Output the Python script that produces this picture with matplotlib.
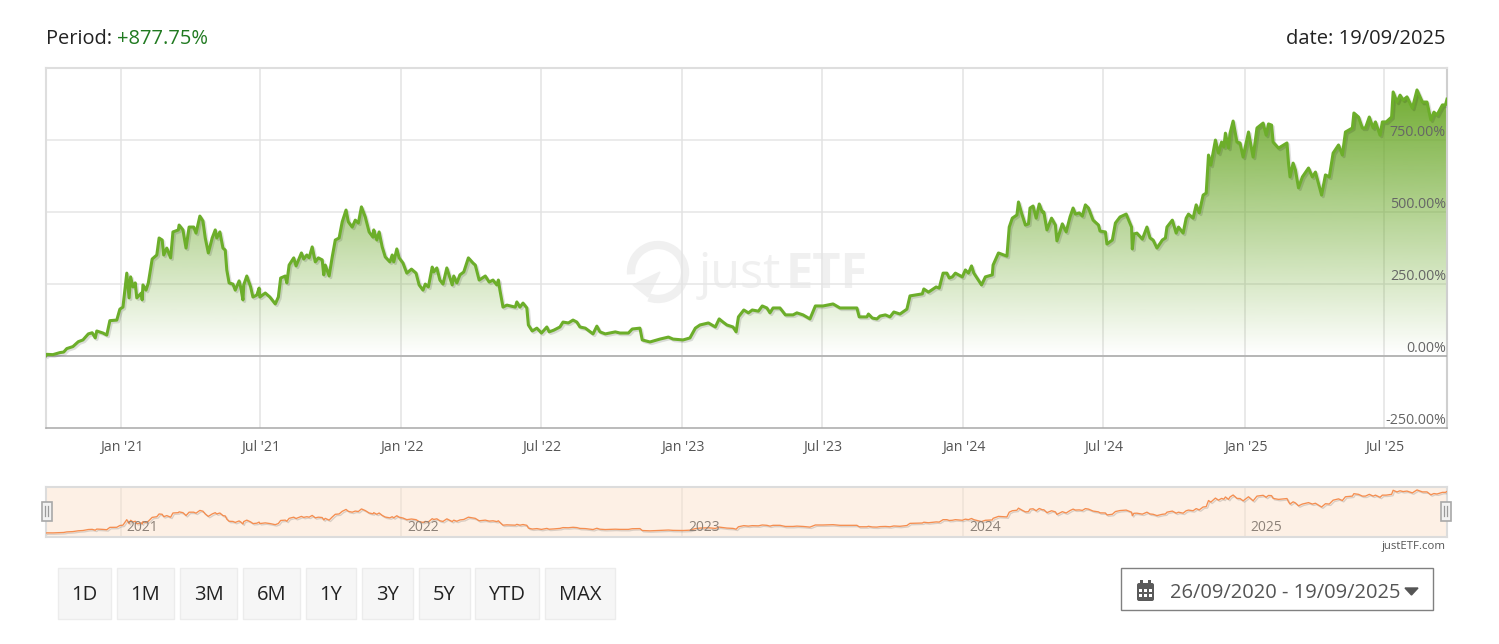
import matplotlib
matplotlib.use("Agg")
import matplotlib.pyplot as plt
import matplotlib.patheffects as pe
from matplotlib.patches import Rectangle, Polygon, Arc, FancyBboxPatch
from matplotlib.colors import LinearSegmentedColormap
import numpy as np
import pandas as pd

plt.rcParams['font.family'] = ['Open Sans', 'DejaVu Sans']

# days since the first date / performance in %
start_date = pd.Timestamp("2020-09-26")
days = [0, 1, 9, 18, 23, 27, 35, 42, 48, 55, 60, 64, 66, 74, 79, 83, 92, 96, 100, 105,
        108, 110, 113, 116, 118, 124, 125, 126, 130, 133, 138, 144, 147, 151, 153, 157, 162, 165, 172, 173,
        178, 182, 186, 192, 195, 200, 204, 207, 211, 216, 220, 222, 226, 230, 233, 235, 238, 243, 246, 251,
        253, 256, 257, 261, 266, 269, 274, 277, 278, 285, 291, 298, 302, 305, 311, 313, 316, 322, 325, 332,
        335, 339, 342, 346, 350, 354, 359, 361, 363, 368, 372, 376, 381, 385, 390, 393, 398, 402, 406, 410,
        415, 420, 425, 426, 430, 433, 437, 441, 447, 450, 452, 456, 459, 464, 469, 475, 481, 485, 490, 493,
        497, 502, 504, 508, 512, 516, 521, 528, 530, 534, 538, 543, 549, 555, 558, 563, 571, 576, 581, 586,
        588, 590, 594, 599, 610, 612, 616, 620, 625, 627, 632, 638, 644, 651, 654, 660, 668, 672, 679, 685,
        690, 694, 701, 711, 716, 720, 727, 740, 746, 757, 762, 772, 775, 785, 798, 809, 815, 828, 837, 844,
        850, 861, 870, 875, 880, 885, 893, 897, 900, 907, 913, 918, 926, 931, 937, 941, 945, 954, 961, 971,
        976, 984, 993, 1000, 1010, 1023, 1032, 1045, 1054, 1057, 1067, 1069, 1074, 1080, 1084, 1091, 1097, 1102, 1110, 1119,
        1123, 1139, 1141, 1147, 1153, 1157, 1161, 1166, 1171, 1174, 1178, 1182, 1191, 1195, 1199, 1203, 1206, 1216, 1221, 1230,
        1231, 1238, 1249, 1252, 1256, 1262, 1264, 1268, 1273, 1277, 1279, 1283, 1287, 1291, 1295, 1297, 1301, 1307, 1312, 1314,
        1321, 1326, 1331, 1335, 1338, 1343, 1347, 1351, 1355, 1361, 1368, 1370, 1377, 1379, 1386, 1390, 1396, 1404, 1411, 1412,
        1414, 1418, 1425, 1431, 1435, 1439, 1444, 1451, 1455, 1457, 1464, 1469, 1472, 1478, 1482, 1485, 1491, 1495, 1499, 1504,
        1508, 1511, 1514, 1520, 1524, 1528, 1531, 1533, 1537, 1539, 1543, 1548, 1552, 1556, 1563, 1569, 1574, 1582, 1586, 1589,
        1593, 1595, 1602, 1613, 1615, 1617, 1621, 1624, 1628, 1633, 1641, 1646, 1650, 1658, 1663, 1668, 1673, 1680, 1685, 1689,
        1698, 1700, 1706, 1711, 1715, 1720, 1725, 1728, 1734, 1737, 1742, 1749, 1751, 1756, 1760, 1764, 1769, 1776, 1782, 1789,
        1795, 1800, 1804, 1808, 1815, 1819, 1821]
pct = [0, 4, 3, 10, 12, 24, 31, 48, 54, 75, 79, 61, 85, 78, 71, 121, 123, 161, 168, 286,
       200, 273, 238, 252, 200, 217, 193, 245, 227, 252, 335, 349, 408, 401, 349, 373, 339, 429, 436, 453,
       436, 373, 446, 446, 425, 484, 467, 408, 356, 408, 436, 408, 429, 373, 366, 297, 252, 248, 227, 259,
       238, 193, 245, 276, 238, 203, 210, 234, 203, 217, 203, 179, 203, 269, 276, 252, 314, 339, 311, 356,
       335, 349, 339, 377, 325, 339, 332, 280, 314, 276, 342, 401, 408, 464, 505, 464, 446, 470, 460, 516,
       481, 429, 411, 436, 401, 429, 377, 342, 325, 349, 325, 370, 339, 321, 286, 300, 286, 245, 227, 248,
       238, 307, 290, 304, 262, 248, 304, 245, 276, 252, 280, 290, 339, 321, 314, 262, 276, 255, 262, 245,
       262, 227, 168, 175, 168, 186, 168, 182, 165, 106, 85, 95, 78, 99, 82, 88, 99, 116, 113, 123,
       116, 99, 95, 75, 102, 82, 75, 82, 78, 78, 92, 95, 54, 47, 57, 64, 57, 54, 61, 95,
       106, 113, 99, 127, 116, 106, 99, 82, 134, 158, 148, 158, 154, 172, 165, 148, 165, 165, 141, 141,
       148, 141, 127, 172, 172, 179, 165, 165, 165, 134, 134, 144, 130, 127, 137, 141, 134, 151, 144, 161,
       207, 214, 231, 220, 231, 238, 234, 286, 286, 269, 273, 286, 273, 297, 286, 311, 286, 245, 273, 280,
       314, 356, 345, 446, 477, 488, 533, 495, 453, 457, 512, 519, 477, 526, 498, 498, 436, 477, 453, 398,
       457, 429, 481, 512, 491, 495, 484, 523, 512, 470, 453, 432, 429, 387, 401, 460, 481, 491, 446, 370,
       422, 425, 404, 446, 408, 401, 373, 401, 408, 446, 470, 425, 446, 425, 477, 491, 477, 523, 495, 557,
       564, 696, 661, 748, 703, 741, 724, 772, 720, 772, 814, 741, 738, 689, 776, 689, 790, 807, 765, 804,
       800, 741, 720, 738, 668, 620, 668, 644, 582, 620, 651, 620, 637, 557, 627, 620, 703, 731, 696, 776,
       790, 842, 828, 790, 790, 828, 790, 811, 765, 811, 811, 828, 915, 880, 904, 887, 898, 859, 922, 880,
       880, 818, 845, 835, 870, 870, 890]

y_ticks = [-250, 0, 250, 500, 750]
x_tick_dates = ["2021-01-01", "2021-07-01", "2022-01-01", "2022-07-01", "2023-01-01",
                "2023-07-01", "2024-01-01", "2024-07-01", "2025-01-01", "2025-07-01"]
x_tick_labels = ["Jan '21", "Jul '21", "Jan '22", "Jul '22", "Jan '23",
                 "Jul '23", "Jan '24", "Jul '24", "Jan '25", "Jul '25"]
nav_years = [2021, 2022, 2023, 2024, 2025]
buttons = ["1D", "1M", "3M", "6M", "1Y", "3Y", "5Y", "YTD", "MAX"]
button_left = [58, 117, 180, 243, 306, 362, 419, 475, 545]
button_right = [111, 174, 237, 300, 356, 413, 470, 539, 615]

last_day = days[-1]
W, H = 1499, 644


def day_of(d):
    return (pd.Timestamp(d) - start_date).days


def rect_of(x0, y0, x1, y1):
    return [x0 / W, (H - y1) / H, (x1 - x0) / W, (y1 - y0) / H]


fig = plt.figure(figsize=(W / 100, H / 100), dpi=100, facecolor='white')

# page layer in pixels: header, watermark
bg = fig.add_axes([0, 0, 1, 1], zorder=0)
bg.set_xlim(0, W)
bg.set_ylim(H, 0)
bg.axis('off')

bg.text(46.5, 44, "Period:", fontsize=14.4, color='#222222', va='baseline')
bg.text(117.5, 44, "+877.75%", fontsize=14.5, color='#217a21', va='baseline')
bg.text(1446, 44, "date: 19/09/2025", fontsize=14.5, color='#222222', va='baseline', ha='right')

# watermark
wm = '#f0f0f0'
bg.add_patch(Arc((658, 272), 54, 54, theta1=175, theta2=470, color=wm, lw=6, zorder=1))
bg.add_patch(Polygon([(633, 285), (660, 272), (648, 297)], closed=True, color=wm, zorder=1))
bg.text(699, 288, "just", fontsize=35, color=wm, va='baseline', zorder=1)
bg.text(786, 288, "ETF", fontsize=35, color=wm, va='baseline', fontweight='bold', zorder=1)

# main chart
ax = fig.add_axes(rect_of(46, 67.5, 1447, 427.5), zorder=1)
ax.patch.set_alpha(0)
for v in y_ticks[1:]:
    ax.axhline(v, color='#e6e6e6', lw=1.1, zorder=1)
for d in x_tick_dates:
    ax.axvline(day_of(d), color='#e3e3e3', lw=1.1, zorder=1)

green_cmap = LinearSegmentedColormap.from_list(
    'fade', [(106 / 255, 168 / 255, 40 / 255, 0.0), (106 / 255, 168 / 255, 40 / 255, 0.95)])
grad = np.linspace(1, 0, 256).reshape(-1, 1)
im = ax.imshow(grad, cmap=green_cmap, extent=(0, last_day, 0, max(pct)), aspect='auto', zorder=2)
area = Polygon(list(zip(days, pct)) + [(last_day, 0), (0, 0)], closed=True, transform=ax.transData,
               fc='none', ec='none')
ax.add_patch(area)
im.set_clip_path(area)

ax.axhline(0, color='#a8a8a8', lw=1.1, zorder=3)
ax.plot(days, pct, color='#6cae2a', lw=2.2, zorder=4, solid_joinstyle='round',
        path_effects=[pe.SimpleLineShadow(offset=(1.2, -1.2), shadow_color='k', alpha=0.12), pe.Normal()])

ax.set_xlim(0, last_day)
ax.set_ylim(-250, 1000)
ax.set_xticks([day_of(d) + 1 for d in x_tick_dates], x_tick_labels)
ax.set_yticks([])
ax.tick_params(axis='x', length=0, pad=9.2, labelsize=10.2, labelcolor='#555555')
for side in ['top', 'left', 'right']:
    ax.spines[side].set_color('#dedede')
    ax.spines[side].set_linewidth(1.5)
ax.spines['right'].set_color('#cfcfcf')
ax.spines['bottom'].set_color('#a8a8a8')
ax.spines['bottom'].set_linewidth(1.1)

for v in y_ticks:
    ax.annotate(f"{v:.2f}%", xy=(1, v), xycoords=ax.get_yaxis_transform(), xytext=(-0.8, -0.6),
                textcoords='offset points', ha='right', va='bottom', fontsize=10.3, color='#666666',
                zorder=6)

# navigator
nav = fig.add_axes(rect_of(46, 487, 1447, 537), zorder=1)
nav.set_facecolor('#fdf0e5')
nav.set_xlim(0, last_day)
nav.set_ylim(-85, 985)
nav.set_xticks([])
nav.set_yticks([])
for s in nav.spines.values():
    s.set_color('#dcdcdc')
    s.set_linewidth(1.5)
for yr in nav_years:
    d = day_of(f"{yr}-01-01")
    nav.axvline(d, color='#eee2d7', lw=1.1, zorder=1)
    nav.annotate(str(yr), xy=(d, 0), xycoords=nav.get_xaxis_transform(), xytext=(4.2, 4),
                 textcoords='offset points', fontsize=10, color='#8c8178', zorder=4)
nav.plot(days, pct, color='#f58e50', lw=0.95, zorder=3,
         path_effects=[pe.SimpleLineShadow(offset=(1, -1), shadow_color='k', alpha=0.14), pe.Normal()])

# top layer in pixels for the handles, buttons and date box
ui = fig.add_axes([0, 0, 1, 1], zorder=2)
ui.set_xlim(0, W)
ui.set_ylim(H, 0)
ui.axis('off')
ui.patch.set_alpha(0)

for cx in (47, 1446):
    ui.add_patch(Rectangle((cx - 5, 501.5), 10, 19, fc='#f2f2f2', ec='#a8a8a8', lw=1.2))
    ui.plot([cx - 1.5, cx - 1.5], [506, 516], color='#9a9a9a', lw=0.9)
    ui.plot([cx + 1.5, cx + 1.5], [506, 516], color='#9a9a9a', lw=0.9)

ui.text(1446, 549, "justETF.com", fontsize=8.2, color='#555555', ha='right', va='baseline')

for label, x0, x1 in zip(buttons, button_left, button_right):
    ui.add_patch(Rectangle((x0, 567.5), x1 - x0, 51, fc='#f6f6f6', ec='#ececec', lw=1))
    ui.text((x0 + x1) / 2, 600, label, fontsize=14.5, color='#222222', ha='center', va='baseline')

ui.add_patch(Rectangle((1121.5, 567.5), 312, 42, fc='white', ec='#808080', lw=1))
ui.text(1170, 598, "26/09/2020 - 19/09/2025", fontsize=14.5, color='#555555', va='baseline')
ui.add_patch(Polygon([(1405, 588), (1418, 588), (1411.5, 595)], closed=True, color='#555555'))

# calendar icon
ui.add_patch(FancyBboxPatch((1137, 583), 17, 18, boxstyle='round,pad=0,rounding_size=2', fc='#5a5a5a', ec='none'))
ui.add_patch(Rectangle((1140.5, 580), 2.5, 4, fc='#5a5a5a', ec='none'))
ui.add_patch(Rectangle((1148.5, 580), 2.5, 4, fc='#5a5a5a', ec='none'))
for gx in (1139.5, 1144.5, 1149.5):
    for gy in (589, 594):
        ui.add_patch(Rectangle((gx, gy), 3, 3, fc='white', ec='none'))

fig.savefig("out.png", dpi=100)
